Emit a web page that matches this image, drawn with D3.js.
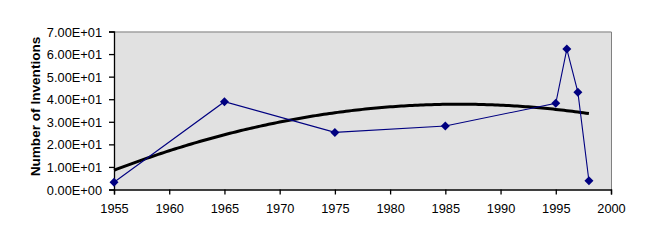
<!DOCTYPE html>
<html><head><meta charset="utf-8">
<script src="https://cdn.jsdelivr.net/npm/d3@7"></script>
<style>body{margin:0;background:#fff}svg{display:block}text{font-family:"Liberation Sans",Arial,sans-serif}</style>
</head><body>
<div id="chart"></div>
<script>
const years = [1955, 1965, 1975, 1985, 1995, 1996, 1997, 1998];
const inventions = [3.2, 38.9, 25.3, 28.1, 38.2, 62.2, 43.1, 3.9];
const xTicks = [1955, 1960, 1965, 1970, 1975, 1980, 1985, 1990, 1995, 2000];
const yTicks = [0, 10, 20, 30, 40, 50, 60, 70];
const yTitle = "Number of Inventions";

const W = 647, H = 241;
const m = {left: 114, right: 36, top: 31.5, bottom: 51.5};
const svg = d3.select("#chart").append("svg").attr("width", W).attr("height", H);

const x = d3.scaleLinear().domain([1955, 2000]).range([m.left, W - m.right]);
const y = d3.scaleLinear().domain([0, 70]).range([H - m.bottom, m.top]);

// plot area
svg.append("rect").attr("x", x(1955)).attr("y", y(70))
  .attr("width", x(2000) - x(1955)).attr("height", y(0) - y(70))
  .attr("fill", "#e1e1e1");
svg.append("path")
  .attr("d", `M${x(1955)},${y(70)+0.5}H${x(2000)+0.5}V${y(0)}`)
  .attr("fill", "none").attr("stroke", "#808080").attr("stroke-width", 1);

// axes
const fmt = d => d3.format(".2e")(d).replace(/e([+-])(\d)$/, "E$10$2").replace("e", "E");
const xAxis = d3.axisBottom(x).tickValues(xTicks).tickFormat(d3.format("d")).tickSize(5).tickPadding(9);
const yAxis = d3.axisLeft(y).tickValues(yTicks).tickFormat(fmt).tickSize(5).tickPadding(7);

const gx = svg.append("g").attr("transform", `translate(0,${y(0)})`).call(xAxis);
const gy = svg.append("g").attr("transform", `translate(${x(1955)},0)`).call(yAxis);
[gx, gy].forEach(g => {
  g.select(".domain").attr("stroke", "#000").attr("stroke-width", 1.3);
  g.selectAll(".tick line").attr("stroke", "#000").attr("stroke-width", 1.3);
  g.selectAll(".tick text").attr("fill", "#000").style("font-size", "12.8px")
    .style("font-family", '"Liberation Sans",Arial,sans-serif');
});
gy.selectAll(".tick text").attr("dy", "0.36em");

// axis title
svg.append("text").attr("transform", `translate(40,106.5) rotate(-90)`)
  .attr("text-anchor", "middle").style("font-size", "13.6px").style("font-weight", "bold")
  .text(yTitle);

// polynomial (order 2) least-squares trendline, as in the original chart
function quadFit(xs, ys) {
  const t = xs.map(v => v - xs[0]);
  const S = k => d3.sum(t, v => Math.pow(v, k));
  const Sy = k => d3.sum(t, (v, i) => Math.pow(v, k) * ys[i]);
  const A = [[S(0), S(1), S(2)], [S(1), S(2), S(3)], [S(2), S(3), S(4)]];
  const B = [Sy(0), Sy(1), Sy(2)];
  for (let i = 0; i < 3; i++) {
    for (let j = i + 1; j < 3; j++) {
      const f = A[j][i] / A[i][i];
      for (let k = i; k < 3; k++) A[j][k] -= f * A[i][k];
      B[j] -= f * B[i];
    }
  }
  const c = [0, 0, 0];
  for (let i = 2; i >= 0; i--) {
    let s = B[i];
    for (let k = i + 1; k < 3; k++) s -= A[i][k] * c[k];
    c[i] = s / A[i][i];
  }
  return v => c[0] + c[1] * (v - xs[0]) + c[2] * (v - xs[0]) ** 2;
}
const trend = quadFit(years, inventions);
const tx = d3.range(years[0], years[years.length - 1] + 0.001, 0.25);
svg.append("path").datum(tx)
  .attr("d", d3.line().x(d => x(d)).y(d => y(trend(d))))
  .attr("fill", "none").attr("stroke", "#000").attr("stroke-width", 3);

// series
const pts = years.map((d, i) => [d, inventions[i]]);
svg.append("path").datum(pts)
  .attr("d", d3.line().x(d => x(d[0])).y(d => y(d[1])))
  .attr("fill", "none").attr("stroke", "#000080").attr("stroke-width", 1.1);
svg.selectAll(".mk").data(pts).enter().append("path")
  .attr("transform", d => `translate(${x(d[0])},${y(d[1])})`)
  .attr("d", "M0,-4.5L4.5,0L0,4.5L-4.5,0Z").attr("fill", "#000080");
</script>
</body></html>
